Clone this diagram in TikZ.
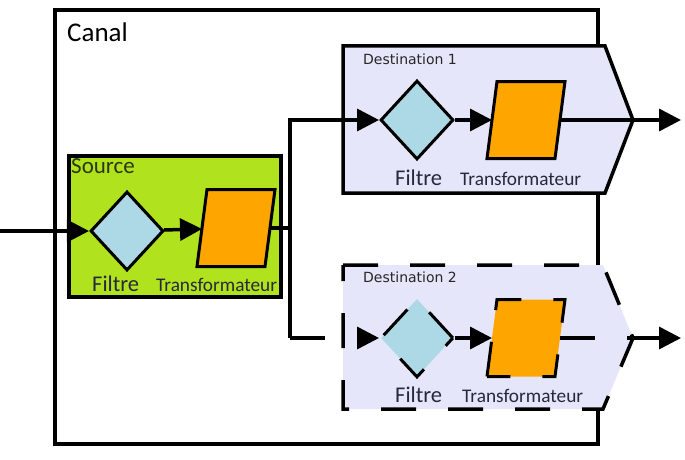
\documentclass[tikz,border=0pt]{standalone}
\usepackage{fontspec}
\setmainfont{Carlito}
\newfontfamily\dvs{DejaVu Sans}
\usetikzlibrary{shapes.geometric,arrows.meta}
\definecolor{srcgreen}{RGB}{176,226,30}
\definecolor{fblue}{RGB}{173,216,230}
\definecolor{torange}{RGB}{255,165,0}
\definecolor{lav}{RGB}{230,230,250}
\definecolor{txt}{RGB}{40,40,60}
\definecolor{srctxt}{RGB}{45,55,20}
\tikzset{
  conn/.style={line width=3.5pt, draw=black},
  arr/.style={conn, -{Triangle[length=22pt,width=22pt]}},
  dsh/.style={dash pattern=on 35pt off 32pt},
  boxframe/.style={draw, line width=4pt, anchor=north west, inner sep=0pt, outer sep=0pt},
  destframe/.style={draw=black, line width=3.5pt, fill=lav, line join=miter},
  filtre/.style={shape=diamond, draw, line width=3pt, fill=fblue, minimum width=73pt, minimum height=79pt, inner sep=0pt},
  transf/.style={shape=rectangle, minimum width=65pt, minimum height=74pt, inner sep=0pt, outer sep=1.5pt},
  paraline/.style={draw=black, line width=3pt, fill=torange, line join=miter},
  lblF/.style={anchor=base west, font=\fontsize{22.5}{24}\selectfont, text=txt, inner sep=0pt},
  lblT/.style={anchor=base west, font=\fontsize{19.3}{21}\selectfont, text=txt, inner sep=0pt},
  lblD/.style={anchor=base west, font=\dvs\fontsize{14}{16}\selectfont, text=black!85, inner sep=0pt},
}
\newcommand\parallelo[2]{%
  \draw[paraline,#2] ([xshift=-5pt]#1.south west) -- ([xshift=5pt]#1.north west)
    -- ([xshift=5pt]#1.north east) -- ([xshift=-5pt]#1.south east) -- cycle;}
\begin{document}
\begin{tikzpicture}[x=1pt,y=-1pt]
\useasboundingbox (0,0) rectangle (685,460);
% containers
\node[boxframe, minimum width=543pt, minimum height=434pt] (canal) at (55,10) {};
\node[anchor=base west, inner sep=0pt, font=\fontsize{27}{30}\selectfont] (tcanal) at (67,42) {Canal};
\node[boxframe, fill=srcgreen, minimum width=212pt, minimum height=141pt] (src) at (69,156) {};
\node[anchor=base west, inner sep=0pt, font=\fontsize{23}{25}\selectfont, text=srctxt] (tsrc) at (71,173) {Source};
\draw[destframe] (343,46) -- (605,46) -- (633,120) -- (605,193) -- (343,193) -- cycle;
\draw[destframe, dsh] (343,265) -- (603,265) -- (633,338) -- (603,409) -- (343,409) -- cycle;
\node[lblD] (tdest1) at (363,65) {Destination 1};
\node[lblD] (tdest2) at (363,282) {Destination 2};
% elements
\node[filtre] (d0) at (127,231) {};
\node[transf] (t0) at (236,228) {};
\parallelo{t0}{}
\node[filtre] (d1) at (417,120) {};
\node[transf] (t1) at (526,120) {};
\parallelo{t1}{}
\node[filtre, dsh] (d2) at (417,338) {};
\node[transf] (t2) at (526,338) {};
\parallelo{t2}{dsh}
% labels
\node[lblF] (f0) at (92,291) {Filtre};
\node[lblT] (tr0) at (156,291) {Transformateur};
\node[lblF] (f1) at (395,185) {Filtre};
\node[lblT] (tr1) at (460,185) {Transformateur};
\node[lblF] (f2) at (395,402) {Filtre};
\node[lblT] (tr2) at (462,402) {Transformateur};
% connectors
\coordinate (in) at (0,231);
\coordinate (j) at (290,228);
\coordinate (jb) at (290,338);
\coordinate (o1) at (681,120);
\coordinate (o2) at (681,338);
\draw[arr] (in) -- (d0);
\draw[arr] (d0) -- (t0);
\draw[conn] (t0) -- (j);
\draw[arr] (j) |- (d1);
\draw[conn] (j) -- (jb);
\draw[arr, dsh] (jb) -- (d2);
\draw[arr] (d1) -- (t1);
\draw[arr] (t1) -- (o1);
\draw[arr] (d2) -- (t2);
\draw[arr, dsh] (t2) -- (o2);
\end{tikzpicture}
\end{document}
